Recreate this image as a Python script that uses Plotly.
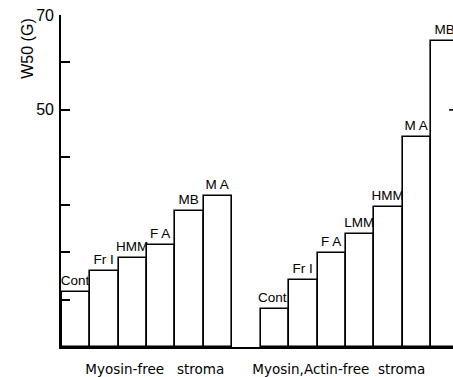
import plotly.graph_objects as go

# Data
group_names = ["Myosin-free   stroma", "Myosin,Actin-free  stroma"]
g1_labels = ["Cont", "Fr I", "HMM", "F A", "MB", "M A"]
g1_values = [11.5, 16.0, 18.7, 21.5, 28.7, 31.9]
g2_labels = ["Cont.", "Fr I", "F A", "LMM", "HMM", "M A", "MB"]
g2_values = [8.1, 14.2, 19.8, 23.8, 29.6, 44.2, 64.6]

y_tickvals = [10, 20, 30, 40, 50, 60, 70]
y_ticktext = ["", "", "", "", "50", "", "70"]
right_tick = 50

g2_offset = len(g1_labels) + 1
x1 = list(range(len(g1_labels)))
x2 = [g2_offset + i for i in range(len(g2_labels))]

FONT = "Liberation Sans, Arial, sans-serif"

fig = go.Figure()
for xs, vals, labs in [(x1, g1_values, g1_labels), (x2, g2_values, g2_labels)]:
    fig.add_trace(go.Bar(
        x=xs, y=vals, text=labs, width=1.0,
        textposition="outside", cliponaxis=False, constraintext="none",
        textfont=dict(family=FONT, size=13.5, color="black"),
        marker=dict(color="white", line=dict(color="black", width=1.6)),
        showlegend=False, hoverinfo="skip",
    ))

group_centers = [2.77, 9.25]

fig.update_layout(
    width=453, height=377,
    margin=dict(l=61, r=0, t=15, b=26),
    plot_bgcolor="white", paper_bgcolor="white",
    bargap=0,
    font=dict(family=FONT, color="black"),
    xaxis=dict(
        range=[-0.53, 13.27], showgrid=False, zeroline=False,
        showline=True, linecolor="black", linewidth=1.6,
        tickvals=group_centers, ticktext=group_names, ticks="",
        tickfont=dict(family="DejaVu Sans, sans-serif", size=13.5),
        ticklabelstandoff=9,
    ),
    yaxis=dict(
        range=[0, 70], showgrid=False, zeroline=False,
        showline=True, linecolor="black", linewidth=1.6,
        tickvals=y_tickvals, ticktext=y_ticktext,
        ticks="inside", ticklen=9, tickwidth=1.6, tickcolor="black",
        tickfont=dict(family=FONT, size=16),
        ticklabelstandoff=2,
    ),
    shapes=[dict(
        type="line", xref="paper", yref="y", x0=0.99, x1=1.0,
        y0=right_tick, y1=right_tick, line=dict(color="black", width=1.6),
    )],
    annotations=[dict(
        text="W50 (G)", xref="paper", yref="paper", x=-0.084, y=0.995,
        xanchor="center", yanchor="top", textangle=-90, showarrow=False,
        font=dict(family=FONT, size=16, color="black"),
    )],
)

fig.write_html("out.html")
